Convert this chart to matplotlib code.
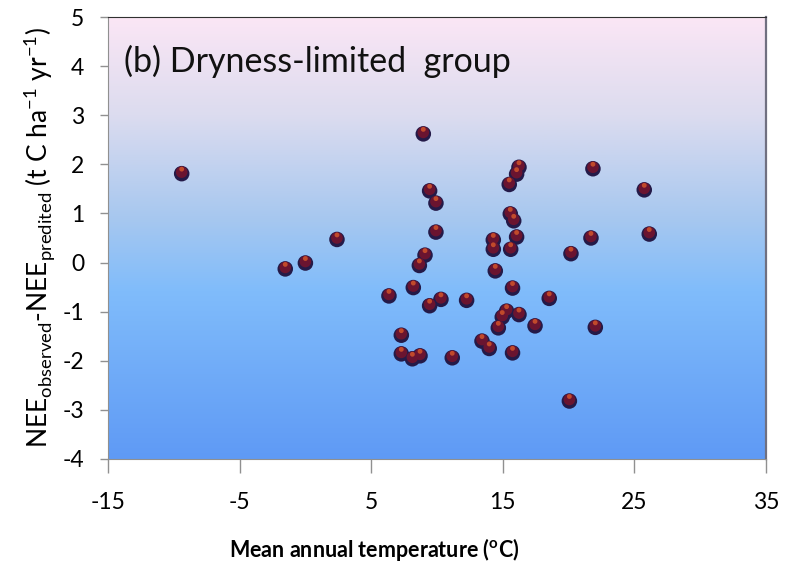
import numpy as np
import matplotlib
matplotlib.use("Agg")
import matplotlib.pyplot as plt
from matplotlib.colors import LinearSegmentedColormap
from matplotlib.transforms import offset_copy

# ========================
# Datos
# ========================
temp = [-9.4, -1.53, 0.0, 2.4, 8.96, 9.44, 9.92, 9.92, 9.09, 8.66,
        8.2, 6.35, 9.44, 10.3, 7.29, 7.29, 8.13, 8.71, 11.16, 16.23,
        16.05, 15.49, 21.85, 25.75, 15.57, 15.83, 16.05, 14.28, 14.28, 15.6,
        21.7, 26.13, 20.18, 14.43, 15.74, 18.53, 12.25, 15.29, 16.23, 14.96,
        14.66, 17.45, 22.03, 13.42, 13.97, 15.74, 20.06]
resid = [1.81, -0.13, -0.01, 0.47, 2.62, 1.46, 1.21, 0.62, 0.15, -0.06,
         -0.51, -0.68, -0.88, -0.75, -1.48, -1.86, -1.96, -1.90, -1.94, 1.94,
         1.80, 1.59, 1.91, 1.48, 0.99, 0.85, 0.52, 0.46, 0.27, 0.27,
         0.50, 0.58, 0.18, -0.17, -0.52, -0.73, -0.77, -0.99, -1.06, -1.11,
         -1.33, -1.29, -1.32, -1.60, -1.75, -1.84, -2.82]

xticks = [-15, -5, 5, 15, 25, 35]
yticks = [-4, -3, -2, -1, 0, 1, 2, 3, 4, 5]

plt.rcParams['font.family'] = ['Lato', 'DejaVu Sans']
plt.rcParams['mathtext.fontset'] = 'custom'
plt.rcParams['mathtext.rm'] = 'Lato'
plt.rcParams['axes.unicode_minus'] = False

fig = plt.figure(figsize=(7.9, 5.69), dpi=100)
ax = fig.add_axes([0.1367, 0.1934, 0.8329, 0.7767])

# fondo degradado
grad_cmap = LinearSegmentedColormap.from_list(
    "fondo", [(0.0, "#5f9af5"), (0.38, "#80bcfb"), (0.55, "#a8c8ef"),
              (0.78, "#dcdcef"), (1.0, "#fbe6f5")])
ax.imshow(np.linspace(0, 1, 256).reshape(-1, 1), cmap=grad_cmap, origin="lower",
          extent=[0, 1, 0, 1], transform=ax.transAxes, aspect="auto", zorder=0)

# puntos tipo esfera (tres capas)
ax.scatter(temp, resid, s=125, color="#241a48", edgecolor="none", zorder=3)
up1 = offset_copy(ax.transData, fig=fig, x=0, y=1.5, units="dots")
ax.scatter(temp, resid, s=70, color="#6a1430", edgecolor="none", zorder=4, transform=up1)
up2 = offset_copy(ax.transData, fig=fig, x=0, y=4.5, units="dots")
ax.scatter(temp, resid, s=12, color="#d8582a", edgecolor="none", zorder=5,
           transform=up2, alpha=0.8)

ax.set_xlim(-15, 35)
ax.set_ylim(-4, 5)
ax.set_xticks(xticks)
ax.set_yticks(yticks)
ax.tick_params(axis="x", direction="out", length=10, width=1, color="#909090",
               labelsize=16.5, pad=14)
ax.tick_params(axis="y", direction="out", length=6, width=1, color="#909090",
               labelsize=16.5, pad=11)
for side in ["left", "bottom"]:
    ax.spines[side].set_color("#909090")
ax.spines["top"].set_color("#303030")
ax.spines["right"].set_color("#707080")
ax.spines["right"].set_linewidth(1.6)

ax.text(0.025, 0.90, "(b) Dryness-limited  group", transform=ax.transAxes,
        fontsize=24.5, ha="left", va="center", color="#111111")

ax.set_xlabel("Mean annual temperature ($\\mathregular{^o}$C)", fontsize=15.5,
              fontweight="bold")
ax.xaxis.label.set_va("center")
ax.xaxis.set_label_coords(0.404, -0.205)
ax.set_ylabel("NEE$_{\\mathregular{observed}}$-NEE$_{\\mathregular{predited}}$"
              " (t C ha$^{\\mathregular{-1}}$ yr$^{\\mathregular{-1}}$)",
              fontsize=19, labelpad=4)

fig.savefig("out.png", dpi=100)
